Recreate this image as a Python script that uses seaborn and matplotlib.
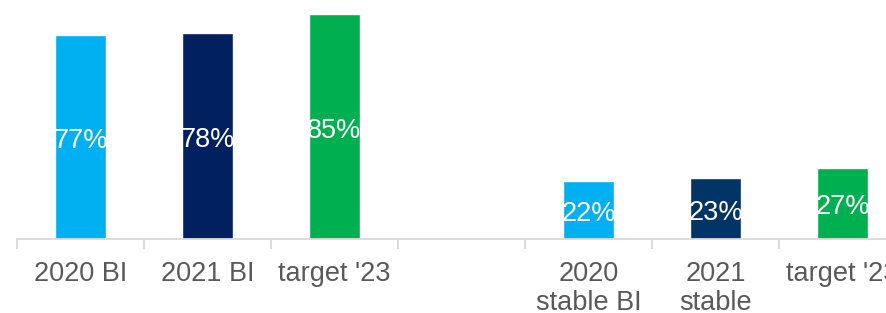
import matplotlib
matplotlib.use("Agg")
import matplotlib.pyplot as plt
import numpy as np
import pandas as pd
import seaborn as sns

# categories (keys must be unique; the blank slot is a gap in the chart)
categories = ["2020 BI", "2021 BI", "target '23", "gap", "2020 stable BI", "2021 stable", "target '23 stable"]
tick_labels = ["2020 BI", "2021 BI", "target '23", "", "2020\nstable BI", "2021\nstable", "target '23"]
values = [77, 78, 85, 22, 23, 27]
value_cats = ["2020 BI", "2021 BI", "target '23", "2020 stable BI", "2021 stable", "target '23 stable"]
bar_colors = ["#00B0F0", "#002060", "#00B050", "#00B0F0", "#003366", "#00B050"]

df = pd.DataFrame({"cat": value_cats, "pct": values})
palette = dict(zip(value_cats, bar_colors))

sns.set_theme(style="white")
plt.rcParams["font.family"] = ["Liberation Sans", "DejaVu Sans"]

fig = plt.figure(figsize=(8.86, 3.13), dpi=100)
W, H = 886, 313
left_px, slot_px, base_px = 17, 127, 239
px_per_pct = (239 - 14) / 85
ymax = 90
ax = fig.add_axes([left_px / W, (H - base_px) / H, 7 * slot_px / W, ymax * px_per_pct / H])

sns.barplot(data=df, x="cat", y="pct", hue="cat", order=categories, palette=palette,
            width=0.4, saturation=1, legend=False, ax=ax)

for cont in ax.containers:
    for t in ax.bar_label(cont, labels=[f"{v:.0f}%" for v in cont.datavalues], label_type="center",
                          color="white", fontsize=19.5):
        x, y = t.xy
        t.set_position((0, -3))
        t.xyann = (0, -3)

ax.set_xlim(-0.5, 6.5)
ax.set_ylim(0, ymax)
ax.set_xlabel("")
ax.set_ylabel("")
ax.set_yticks([])
ax.set_xticks(range(len(categories)))
ax.set_xticklabels(tick_labels, linespacing=1.15)
ax.set_xticks(np.arange(-0.5, 7, 1), minor=True)
ax.tick_params(axis="x", which="major", length=0, pad=16, labelsize=19.5, labelcolor="#595959")
ax.tick_params(axis="x", which="minor", bottom=True, length=7, width=1.3, color="#D9D9D9", direction="out")

for side in ["top", "right", "left"]:
    ax.spines[side].set_visible(False)
ax.spines["bottom"].set_color("#D9D9D9")
ax.spines["bottom"].set_linewidth(1.3)

fig.savefig("out.png", dpi=100)
